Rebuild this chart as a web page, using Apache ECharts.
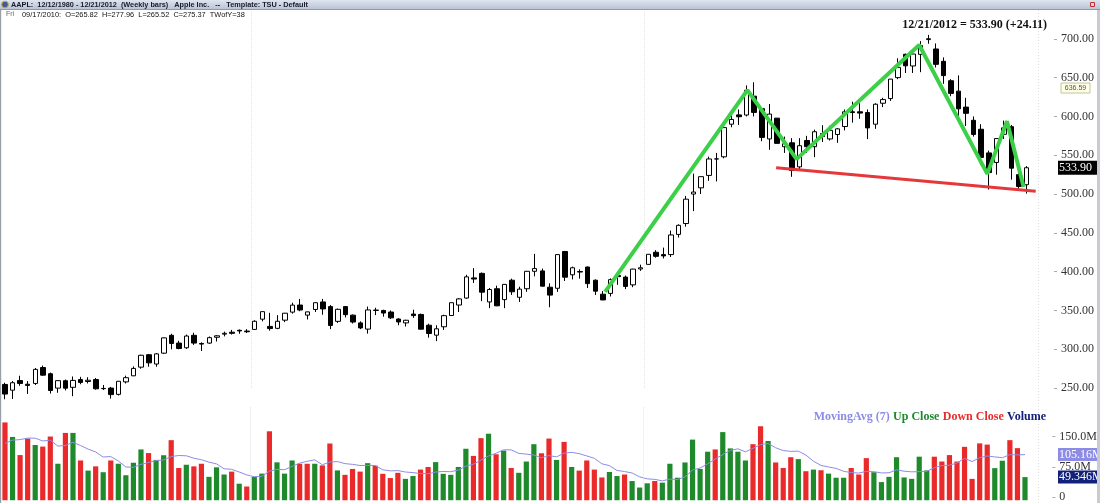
<!DOCTYPE html>
<html><head><meta charset="utf-8">
<script src="https://cdn.jsdelivr.net/npm/echarts@6/dist/echarts.min.js"></script>
<style>html,body{margin:0;padding:0;background:#fff;overflow:hidden}#c{width:1100px;height:503px}</style>
</head><body><div id="c"></div>
<script>
// ---- data (weekly bars, AAPL, week ending dates from 2010-05-21) ----
const firstWeek = '2010-05-21';
const opens = [254.7,247.3,259.7,255.0,256.0,276.5,268.5,250.0,259.5,251.0,261.0,258.5,261.0,249.3,250.0,241.9,258.0,265.82,277.0,293.0,
281.0,295.0,318.0,308.0,302.0,318.0,307.5,308.0,315.5,319.5,322.0,324.5,323.5,325.6,338.8,329.5,327.0,337.5,347.9,357.0,
344.0,351.3,361.0,355.0,336.0,355.0,344.0,334.0,326.0,350.5,350.0,348.0,339.0,334.0,345.4,344.9,331.0,318.2,329.0,343.5,
357.0,366.0,392.0,397.8,361.0,378.0,364.0,389.0,367.0,378.0,400.5,401.0,380.0,378.6,426.0,396.0,399.5,406.0,389.0,371.0,
372.0,395.0,393.0,383.0,403.5,409.4,425.0,422.0,422.0,448.0,462.0,500.0,508.0,524.0,545.3,548.0,590.0,602.0,601.8,626.1,
610.0,571.0,597.8,561.0,566.0,535.0,569.0,561.0,578.0,571.0,576.7,587.0,606.0,606.0,605.0,590.0,617.0,623.0,650.0,680.0,
665.0,680.0,699.0,686.9,671.0,646.0,632.6,612.0,595.0,583.5,553.0,540.7,577.0,586.8,525.0,512.0];
const highs = [256.9,259.2,265.9,259.1,275.9,279.0,270.0,260.0,261.0,265.0,264.5,264.0,263.0,254.0,251.5,258.8,266.0,277.96,293.0,294.0,
295.0,315.3,320.0,311.0,318.9,321.3,309.0,316.5,318.0,322.7,325.0,325.5,326.0,337.4,348.5,347.0,344.0,346.7,360.0,364.9,
348.4,360.5,364.9,357.0,352.5,355.7,344.9,336.0,355.1,353.5,351.0,350.0,340.0,338.0,351.0,346.0,333.0,331.0,344.5,360.0,
366.0,396.0,404.5,399.0,379.0,382.0,384.0,391.0,380.6,400.9,422.9,404.0,385.0,422.0,426.7,406.5,403.0,406.5,390.0,375.0,
391.4,395.5,395.0,403.7,409.0,422.6,427.7,431.0,453.0,461.0,497.6,526.3,522.6,548.2,553.0,589.0,601.0,609.0,640.0,644.0,
611.0,616.0,598.0,574.0,572.0,572.0,575.0,583.0,588.7,588.0,585.0,609.0,619.0,617.0,609.0,617.0,624.0,648.2,674.9,680.9,
682.5,697.0,705.1,694.0,676.0,648.0,652.8,624.0,600.0,590.0,556.0,571.6,594.6,589.0,534.6,536.0];
const lows = [235.6,236.0,253.0,242.5,254.0,265.8,243.0,244.0,247.0,239.6,255.0,256.0,248.0,247.5,236.5,240.5,256.0,265.52,275.0,277.5,
277.5,294.0,300.0,300.0,300.5,305.7,297.8,307.0,310.0,316.6,319.0,320.0,321.0,325.0,336.0,324.0,325.9,335.0,346.0,349.0,
338.4,348.0,344.5,326.0,334.0,341.0,333.2,326.0,320.2,344.0,342.0,339.0,331.0,329.4,340.5,325.5,315.0,310.5,325.0,343.0,
348.0,365.0,385.5,362.0,353.0,355.5,353.0,370.0,361.0,374.0,394.0,381.0,354.2,374.0,388.0,390.0,391.0,379.0,370.0,363.3,
368.0,383.0,377.5,380.0,401.0,409.0,418.0,417.0,419.0,444.0,458.0,478.0,500.0,517.0,516.2,546.0,586.0,589.0,600.0,600.0,
568.0,557.0,565.0,553.0,522.2,531.0,553.0,547.5,567.0,569.0,566.0,582.0,592.0,597.0,570.8,584.0,612.0,620.0,648.0,656.0,
656.0,657.0,693.6,663.0,642.0,626.0,600.0,587.7,574.0,537.5,505.8,525.0,571.0,518.6,505.1,500.6];
const closes = [242.3,256.9,256.0,253.5,274.1,266.7,246.9,259.6,249.9,259.9,257.3,260.1,249.1,249.6,241.6,258.8,263.4,275.37,292.3,282.5,
294.1,314.7,307.5,301.0,317.1,308.0,306.7,315.0,317.4,320.6,320.6,323.6,322.6,336.1,348.5,326.7,336.1,346.5,356.9,350.6,
348.2,360.0,352.0,330.7,351.5,344.6,335.1,327.5,350.7,350.1,346.7,340.5,335.2,337.4,343.4,325.9,320.3,326.4,343.3,360.0,
364.9,393.3,390.5,373.6,377.0,356.0,383.6,374.1,377.5,400.5,404.0,381.3,369.8,422.0,392.9,405.0,400.2,384.6,374.9,363.6,
389.7,393.6,381.0,403.3,405.0,422.4,419.8,420.3,447.3,459.7,493.4,502.6,522.4,545.2,545.17,585.6,596.1,599.6,633.7,605.2,
573.0,603.0,565.3,564.8,530.4,562.3,561.0,580.3,574.1,582.1,584.0,605.9,605.0,604.3,585.2,615.7,621.7,648.1,663.2,665.2,
680.4,691.3,700.1,667.1,652.6,629.7,609.8,604.0,576.8,547.1,527.7,571.5,585.3,533.3,509.79,533.90];
const prevClose0 = 253.8;
// weekly volume, millions of shares
const volumes = [185,149,104,145,129,125,150,82.5,159,159,90.6,65.5,76,61.5,90.6,82.5,54,85,118,109,
92,103.6,141,72,80,76,82.5,50,73.6,55.8,63,33,26,50,58,163,86,58,90.6,82.5,
82.5,82.5,78.4,132.7,66,55,69.6,63,84,77.7,57.5,47,60,45,52,68,74.5,86.6,57.5,55,
74.5,119.7,102,146,157,106,115,72,60,88,131,108.5,145,92,136.7,74.5,65.5,90.6,68,48.5,
62,52,55.8,39.6,23.5,34,39.6,35.6,82.5,47.8,85.7,142.4,69.6,112.4,118,161,120.6,112.4,90.6,131,
175.5,139,85.7,72,98.7,94,64,68,66.4,58,47.8,47.8,72,55.8,96.4,61.5,37,50,98.7,48.5,
45,100,66,100,88,104,88,124.5,45,133,130,71.6,90,141,121.2,49.346];
// volumes of the six weeks before the first bar (for the 7-week moving average)
const volumesPrior = [93,94,120,129,174,136];
const maPeriod = 7;
// hand-drawn annotation lines: [bar index, price]
const zigzag = [[79.3,374],[98.1,634],[104.6,545],[120.8,692],[129.8,526],[132.4,593.7],[134.6,509]];
const trendLine = [[101.9,533.8],[136.2,503.7]];
const yearBreaks = [32.5, 84.5];
const alertLevel = 636.59;
const priceTicks = [250,300,350,400,450,500,550,600,650,700];
const volumeTicks = [0,75,150];
const headerText = 'AAPL:  12/12/1980 - 12/21/2012  (Weekly bars)   Apple Inc.   --   Template: TSU - Default';
const hoverText = '09/17/2010:  O=265.82  H=277.96  L=265.52  C=275.37  TWofY=38';

// ---- derived ----
const N = opens.length;
const dates = [];
{ const d0 = new Date(firstWeek + 'T00:00:00Z');
  for (let i = 0; i < N; i++) { const d = new Date(d0.getTime() + i * 7 * 86400000);
    dates.push(String(d.getUTCMonth()+1).padStart(2,'0') + '/' + String(d.getUTCDate()).padStart(2,'0') + '/' + d.getUTCFullYear()); } }
const cats = dates.concat(['']);
const candleData = opens.map((o, i) => [o, closes[i], lows[i], highs[i]]);
const allVol = volumesPrior.concat(volumes);
const ma = volumes.map((v, i) => { let s = 0; for (let k = 0; k < maPeriod; k++) s += allVol[i + volumesPrior.length - k]; return +(s / maPeriod).toFixed(3); });
const GREEN = '#1f8a2c', RED = '#ea2a2a', MA_COL = '#8c8ce6', NAVY = '#13207a';
const volData = volumes.map((v, i) => {
  const prev = i ? closes[i-1] : prevClose0;
  return { value: [i, v], itemStyle: { color: closes[i] > prev ? GREEN : RED } };
});
const lastClose = closes[N-1], chg = lastClose - closes[N-2];

const SERIF = '"Liberation Serif","Times New Roman",serif';
const SANS = '"Liberation Sans",Arial,sans-serif';
const GL = 1.2, GR = 62;

const chart = echarts.init(document.getElementById('c'));
chart.setOption({
  animation: false,
  backgroundColor: '#ffffff',
  grid: [
    { left: GL, right: GR, top: -0.9, height: 389.0 },
    { left: GL, right: GR, top: 406.3, height: 96 }
  ],
  xAxis: [
    { type: 'category', gridIndex: 0, data: cats, boundaryGap: true, show: false },
    { type: 'value', gridIndex: 0, min: -0.5, max: N + 0.5, show: false },
    { type: 'category', gridIndex: 1, data: cats, boundaryGap: true, show: false },
    { type: 'value', gridIndex: 1, min: -0.5, max: N + 0.5, show: false }
  ],
  yAxis: [
    { type: 'value', gridIndex: 0, position: 'right', offset: 16, min: 250, max: 750, interval: 50,
      axisLine: { show: false, onZero: false }, splitLine: { show: false },
      axisTick: { show: true, length: 3, lineStyle: { color: '#aaa' } },
      axisLabel: { margin: 7, color: '#333', fontFamily: SERIF, fontSize: 12,
        formatter: v => priceTicks.includes(v) ? v.toFixed(2) : '' } },
    { type: 'value', gridIndex: 1, position: 'right', offset: 16, min: -8, max: 225,
      axisLine: { show: false, onZero: false }, splitLine: { show: false },
      axisTick: { show: true, length: 3, lineStyle: { color: '#aaa' }, customValues: volumeTicks },
      axisLabel: { margin: 7, color: '#333', fontFamily: SERIF, fontSize: 12, customValues: volumeTicks,
        formatter: v => v === 0 ? '0' : v.toFixed(1) + 'M' } }
  ],
  series: [
    { type: 'candlestick', xAxisIndex: 0, yAxisIndex: 0, data: candleData, barWidth: 5, clip: false,
      itemStyle: { color: '#ffffff', color0: '#000000', borderColor: '#000000', borderColor0: '#000000', borderWidth: 1 } },
    { type: 'line', xAxisIndex: 1, yAxisIndex: 0, data: zigzag, symbol: 'none', silent: true, z: 5,
      lineStyle: { color: '#3ccf48', width: 4 },
      markLine: { silent: true, symbol: 'none', label: { show: false },
        lineStyle: { color: '#e4e4e4', type: 'dotted', width: 1 },
        data: yearBreaks.map(x => ({ xAxis: x })) } },
    { type: 'line', xAxisIndex: 1, yAxisIndex: 0, data: trendLine, symbol: 'none', silent: true, z: 5,
      lineStyle: { color: '#e5383b', width: 3 } },
    { type: 'custom', xAxisIndex: 2, yAxisIndex: 1, data: volData, silent: true,
      renderItem: (params, api) => {
        const p = api.coord([api.value(0), api.value(1)]);
        const cs = params.coordSys;
        const bottom = cs.y + cs.height;
        return { type: 'rect', shape: { x: p[0] - 2.6, y: p[1], width: 5.2, height: bottom - p[1] },
          style: { fill: api.visual('color') } };
      } },
    { type: 'line', xAxisIndex: 3, yAxisIndex: 1, data: ma.map((v, i) => [i, v]), symbol: 'none', silent: true, z: 4,
      lineStyle: { color: MA_COL, width: 1 },
      markLine: { silent: true, symbol: 'none', label: { show: false },
        lineStyle: { color: '#e4e4e4', type: 'dotted', width: 1 },
        data: yearBreaks.map(x => ({ xAxis: x })) } }
  ]
});

const yClose = chart.convertToPixel({ yAxisIndex: 0 }, lastClose);
const yAlert = chart.convertToPixel({ yAxisIndex: 0 }, alertLevel);
const yMa = chart.convertToPixel({ yAxisIndex: 1 }, ma[N-1]);
const yVol = chart.convertToPixel({ yAxisIndex: 1 }, volumes[N-1]);

function tag(y, txt, bg, fg, h, font, w) {
  return { type: 'group', x: 1058, y: y - h / 2, z: 20, children: [
    { type: 'rect', shape: { x: 0, y: 0, width: w, height: h }, style: { fill: bg } },
    { type: 'text', x: 1, y: h / 2, style: { text: txt, fill: fg, font: font, textVerticalAlign: 'middle' } } ] };
}

chart.setOption({ graphic: [
  // header band
  { type: 'rect', shape: { x: 0, y: 0, width: 1100, height: 9 }, z: 10,
    style: { fill: new echarts.graphic.LinearGradient(0, 0, 0, 1, [{ offset: 0, color: '#dfe5ef' }, { offset: 1, color: '#b9c4d6' }]) } },
  { type: 'rect', shape: { x: 0, y: 9, width: 1100, height: 1 }, z: 10, style: { fill: '#8f99a8' } },
  { type: 'circle', shape: { cx: 5, cy: 4.5, r: 3.3 }, z: 11, style: { fill: '#3d5f93', stroke: '#c9a43a', lineWidth: 1 } },
  { type: 'text', x: 11, y: 4.7, z: 11, style: { text: headerText, font: 'bold 7.3px ' + SANS, fill: '#1a1a2a', textVerticalAlign: 'middle' } },
  { type: 'text', x: 6, y: 14.5, z: 11, style: { text: 'Fri', font: '7px ' + SANS, fill: '#666', textVerticalAlign: 'middle' } },
  { type: 'text', x: 22, y: 14.5, z: 11, style: { text: hoverText, font: '7.4px ' + SANS, fill: '#111', textVerticalAlign: 'middle' } },
  // top-right buttons
  ...['S', 'P', ''].map((t, k) => ({ type: 'group', x: 1070 + k * 9, y: 1, z: 12, children: [
    { type: 'rect', shape: { x: 0, y: 0, width: 8, height: 7 }, style: { fill: k === 2 ? '#f3e6e6' : '#eef1f5', stroke: '#7c8696', lineWidth: 0.7 } },
    { type: 'text', x: 4, y: 3.7, style: { text: t, font: 'bold 6px ' + SANS, fill: '#333', textAlign: 'center', textVerticalAlign: 'middle' } }
  ] })),
  { type: 'rect', shape: { x: 1090.5, y: 2.5, width: 4, height: 4 }, z: 13, style: { fill: 'none', stroke: '#c03030', lineWidth: 1 } },
  // frame strips
  { type: 'rect', shape: { x: 0, y: 10, width: 1.2, height: 493 }, z: 10, style: { fill: '#9aa0a8' } },
  { type: 'rect', shape: { x: 1097, y: 10, width: 3, height: 493 }, z: 10, style: { fill: '#c8ccd2' } },
  { type: 'line', shape: { x1: 1038.5, y1: 10, x2: 1038.5, y2: 503 }, z: 1, style: { stroke: '#dddddd', lineWidth: 1, lineDash: [1, 2] } },
  // title
  { type: 'text', x: 1047, y: 25, z: 11, style: { text: dates[N-1] + ' = ' + lastClose.toFixed(2) + ' (' + (chg >= 0 ? '+' : '') + chg.toFixed(2) + ')',
    font: 'bold 12px ' + SERIF, fill: '#111', textAlign: 'right', textVerticalAlign: 'middle' } },
  // volume legend
  { type: 'text', x: 1046, y: 417, z: 11, style: {
    text: '{a|MovingAvg (7)} {b|Up Close} {c|Down Close} {d|Volume}', textAlign: 'right', textVerticalAlign: 'middle',
    rich: { a: { fill: MA_COL, font: 'bold 12px ' + SERIF }, b: { fill: GREEN, font: 'bold 12px ' + SERIF },
      c: { fill: RED, font: 'bold 12px ' + SERIF }, d: { fill: NAVY, font: 'bold 12px ' + SERIF } } } },
  // value tags on the right axis
  { type: 'group', x: 1061, y: yAlert - 5, z: 20, children: [
    { type: 'rect', shape: { x: 0, y: 0, width: 29, height: 10 }, style: { fill: '#ffffe6', stroke: '#b5b58a', lineWidth: 0.8 } },
    { type: 'text', x: 14.5, y: 5.3, style: { text: alertLevel.toFixed(2), font: '7px ' + SANS, fill: '#555', textAlign: 'center', textVerticalAlign: 'middle' } } ] },
  tag(yClose, lastClose.toFixed(2), '#000000', '#ffffff', 14, '12px ' + SERIF, 39),
  tag(yMa, ma[N-1].toFixed(2) + 'M', MA_COL, '#ffffff', 13, '12px ' + SERIF, 42),
  tag(yVol, volumes[N-1].toFixed(3) + 'M', NAVY, '#ffffff', 13, '12px ' + SERIF, 42)
] });
</script></body></html>
